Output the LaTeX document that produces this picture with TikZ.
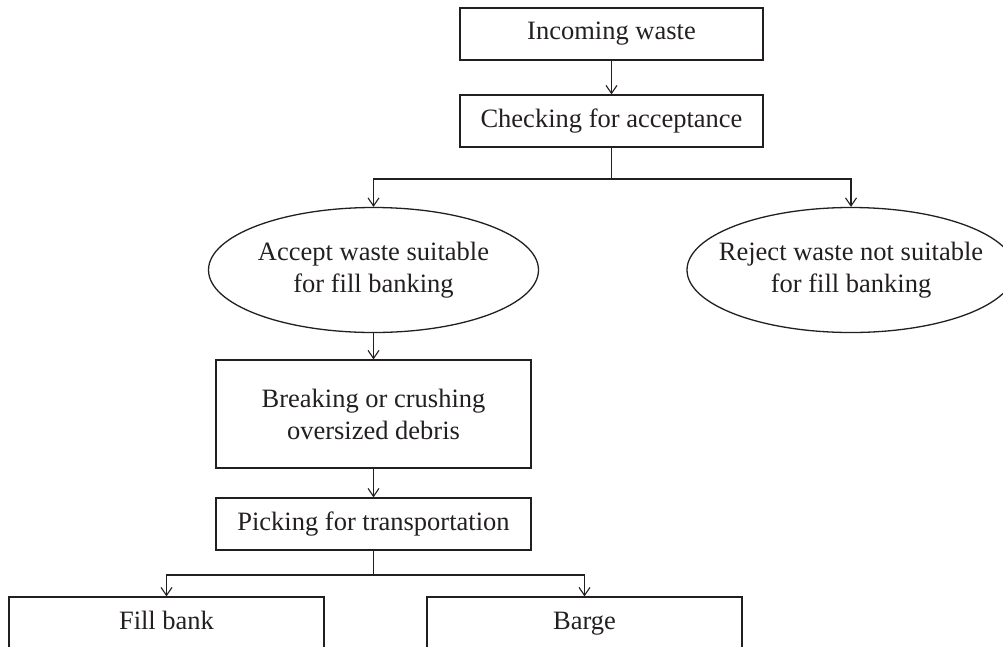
\documentclass[tikz,border=0pt]{standalone}
\usepackage{fontspec}
\setmainfont{Liberation Serif}
\usetikzlibrary{shapes.geometric,arrows.meta}
\definecolor{ink}{HTML}{231F20}
\tikzset{
  every node/.style={font=\fontsize{26.5}{32}\selectfont, text=ink, align=center},
  box/.style={draw=ink, line width=1.3pt, rectangle, inner sep=0pt},
  oval/.style={draw=ink, line width=1.3pt, ellipse, inner sep=0pt,
               minimum height=125pt},
  link/.style={draw=ink, line width=1.3pt},
  arr/.style={link, -{Straight Barb[length=8pt,width=11pt,line width=1.1pt]}},
}
\begin{document}
\begin{tikzpicture}[x=1pt,y=-1pt]
  \useasboundingbox (0,0) rectangle (1003,646);

  % process steps
  \node[box, minimum width=303pt, minimum height=52pt] (inc) at (611.5,34) {Incoming waste};
  \node[box, minimum width=303pt, minimum height=52pt] (chk) at (611.5,121) {Checking for acceptance};
  \node[oval, minimum width=330pt, label={[align=center]center:Accept waste suitable\\for fill banking}] (acc) at (373.5,270) {};
  \node[oval, minimum width=328pt, label={[align=center]center:Reject waste not suitable\\for fill banking}] (rej) at (851,270) {};
  \node[box, minimum width=315pt, minimum height=108pt] (brk) at (373.5,414) {Breaking or crushing\\oversized debris};
  \node[box, minimum width=315pt, minimum height=52pt] (pick) at (373.5,524) {Picking for transportation};
  \node[box, minimum width=315pt, minimum height=52pt, text height=18pt, text depth=6pt] (fill) at (166.5,623) {Fill bank};
  \node[box, minimum width=315pt, minimum height=52pt, text height=18pt, text depth=6pt] (barge) at (584.5,623) {Barge};

  % branching points
  \coordinate (split1) at (611.5,179);
  \coordinate (split2) at (373.5,575);

  % connectors
  \draw[arr] (inc) -- (chk);
  \draw[link] (chk.south) -- (split1);
  \draw[arr] (split1) -| (acc.north);
  \draw[arr] (split1) -| (rej.north);
  \draw[arr] (acc.south) -- (brk.north);
  \draw[arr] (brk) -- (pick);
  \draw[link] (pick.south) -- (split2);
  \draw[arr] (split2) -| (fill.north);
  \draw[arr] (split2) -| (barge.north);
\end{tikzpicture}
\end{document}
